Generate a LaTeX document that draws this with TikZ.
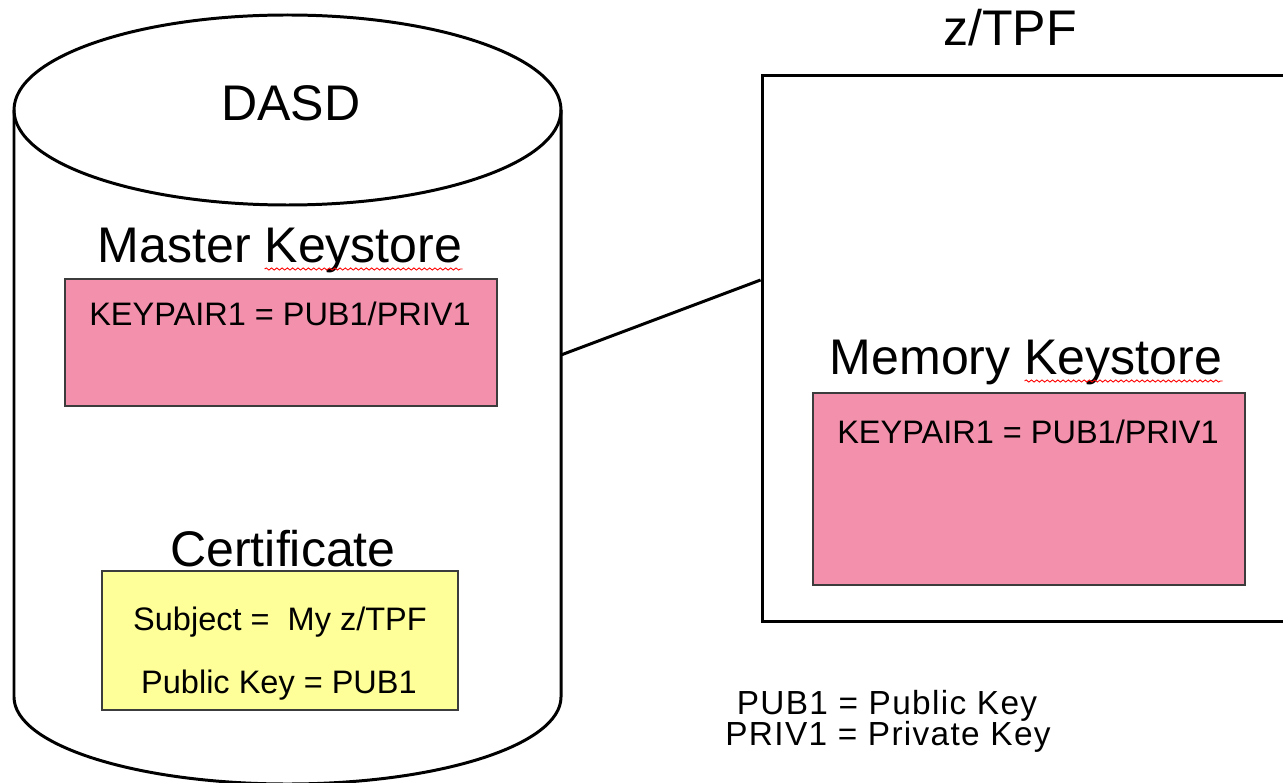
\documentclass[tikz,border=0pt]{standalone}
\usepackage{fontspec}
\setmainfont{Liberation Sans}
\usetikzlibrary{calc,decorations.pathmorphing}
\definecolor{pinkbox}{RGB}{243,145,172}
\definecolor{yellowbox}{RGB}{255,255,153}
\definecolor{boxedge}{RGB}{60,60,60}
\begin{document}
\begin{tikzpicture}[x=0.02cm,y=-0.02cm,
  big/.style={font=\fontsize{28.5}{34}\selectfont, inner sep=0pt, anchor=base},
  small/.style={font=\fontsize{18.5}{22}\selectfont, inner sep=0pt, anchor=base},
  legendtext/.style={font=\fontsize{19}{22}\selectfont\addfontfeature{LetterSpace=4}, inner sep=0pt, anchor=base},
  keybox/.style={draw=boxedge, fill=pinkbox, line width=0.8pt, minimum width=8.64cm, inner sep=0pt},
  certbox/.style={draw=boxedge, fill=yellowbox, line width=0.8pt, inner sep=0pt, minimum width=7.12cm, minimum height=2.78cm},
  outline/.style={draw=black, line width=1.7pt},
  spell/.style={draw=red, line width=0.5pt, decorate, decoration={snake, amplitude=0.6pt, segment length=3pt}}]
\useasboundingbox (0,0) rectangle (1283,783);
\fill[white] (0,0) rectangle (1283,783);

% DASD cylinder
\draw[outline, fill=white] (14,110) -- (14,697) arc[start angle=180, end angle=0, x radius=273.5, y radius=87] -- (561,110);
\draw[outline] (287.5,110) ellipse[x radius=273.5, y radius=95];
\node[big] (dasd) at (291,121) {DASD};

% Master keystore
\node[big] (mk) at (280,263) {Master Keystore};
\node[keybox, minimum height=2.54cm] (kp1box) at (281,342.5) {};
\node[small] (kp1) at (280,326) {KEYPAIR1 = PUB1/PRIV1};

% Certificate
\node[big] (certlbl) at (283,566) {Certificate};
\node[certbox] (cert) at (280,640.5) {};
\node[small] (subj) at (280,630) {Subject = \ My z/TPF};
\node[small] (pubk) at (279,693) {Public Key = PUB1};

% z/TPF
\node[big] (ztpf) at (1010,46) {z/TPF};
\node[outline, fill=white, minimum width=10.66cm, minimum height=10.94cm, inner sep=0pt] (zbox) at (1028.5,348.5) {};
\node[big] (memk) at (1026,375) {Memory Keystore};
\node[keybox, minimum height=3.84cm] (kp2box) at (1029,489) {};
\node[small] (kp2) at (1028,443) {KEYPAIR1 = PUB1/PRIV1};

% spelling marks
\draw[spell] ($(mk.base east)+(-198,6)$) -- ($(mk.base east)+(0,6)$);
\draw[spell] ($(memk.base east)+(-198,6)$) -- ($(memk.base east)+(0,6)$);

% connector
\coordinate (cylR) at (561,355);
\coordinate (zL) at (zbox.west |- 0,280);
\draw[line width=1.7pt] (cylR) -- (zL);

% legend
\node[legendtext] (leg1) at (887,714) {PUB1 = Public Key};
\node[legendtext] (leg2) at (888,745) {PRIV1 = Private Key};
\end{tikzpicture}
\end{document}
